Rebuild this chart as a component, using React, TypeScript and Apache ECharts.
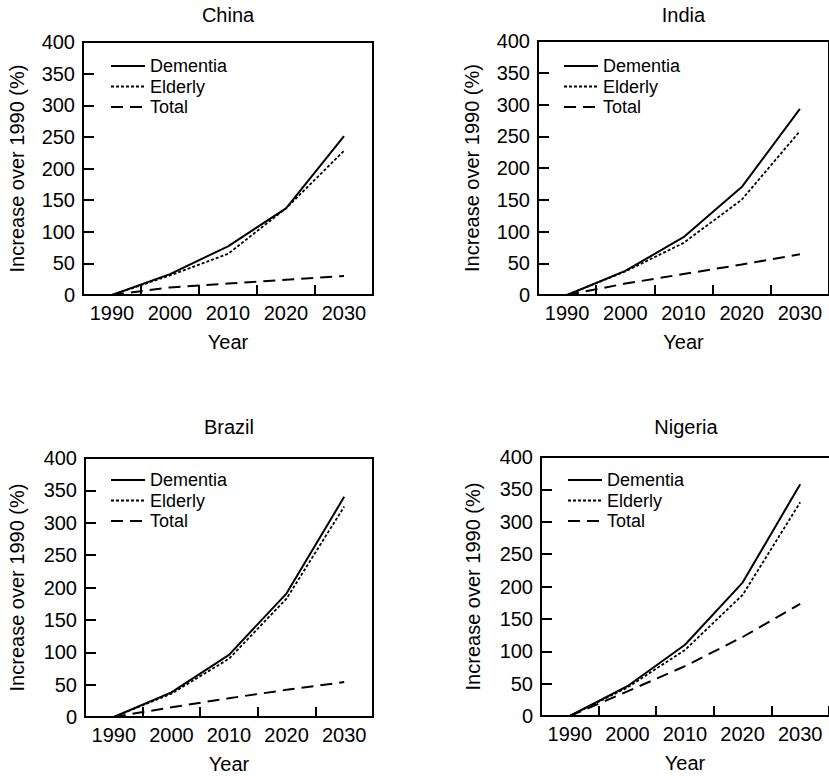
import React, { useEffect, useRef } from "react";
import * as echarts from "echarts";

const years = ["1990", "2000", "2010", "2020", "2030"];
const countries = ["China", "India", "Brazil", "Nigeria"];
const seriesNames = ["Dementia", "Elderly", "Total"];

const chinaDementia = [0, 33, 77, 137, 251];
const chinaElderly = [0, 31, 65, 137, 228];
const chinaTotal = [0, 12, 18, 24, 30];

const indiaDementia = [0, 38, 91, 170, 293];
const indiaElderly = [0, 37, 82, 150, 258];
const indiaTotal = [0, 18, 33, 48, 64];

const brazilDementia = [0, 38, 96, 191, 340];
const brazilElderly = [0, 36, 90, 183, 325];
const brazilTotal = [0, 15, 29, 42, 54];

const nigeriaDementia = [0, 46, 110, 206, 358];
const nigeriaElderly = [0, 44, 102, 187, 330];
const nigeriaTotal = [0, 38, 77, 122, 173];

const yTicks = { min: 0, max: 400, interval: 50 };

const panelData = [
  [chinaDementia, chinaElderly, chinaTotal],
  [indiaDementia, indiaElderly, indiaTotal],
  [brazilDementia, brazilElderly, brazilTotal],
  [nigeriaDementia, nigeriaElderly, nigeriaTotal],
];

const FONT = "'Liberation Sans', Arial, Helvetica, sans-serif";

const grids = [
  { left: 83, top: 42, width: 290, height: 253, nameGap: 56 },
  { left: 538, top: 41, width: 291, height: 254, nameGap: 56 },
  { left: 85, top: 458, width: 288, height: 259, nameGap: 58 },
  { left: 541, top: 457, width: 290, height: 259, nameGap: 58 },
];
const titleY = [15, 15, 427, 427];
const legendPos = [
  { left: 110, top: 57 },
  { left: 563, top: 57 },
  { left: 110, top: 471 },
  { left: 567, top: 471 },
];

const lineStyles = [
  { width: 2, type: "solid" as any },
  { width: 1.8, type: [3, 2] as any },
  { width: 2, type: [12, 7] as any },
];

export default function App() {
  const ref = useRef<HTMLDivElement>(null);
  useEffect(() => {
    if (!ref.current) return;
    const chart = echarts.init(ref.current, null, { renderer: "svg" });
    const grid = grids.map((g) => ({
      left: g.left,
      top: g.top,
      width: g.width,
      height: g.height,
      show: false,
    }));
    const xAxis = grids.map((g, i) => ({
      type: "category",
      gridIndex: i,
      data: years,
      boundaryGap: true,
      z: 5,
      name: "Year",
      nameLocation: "middle",
      nameGap: 37,
      nameTextStyle: { fontSize: 20, color: "#000", fontFamily: FONT },
      axisLine: { show: true, lineStyle: { color: "#000", width: 2 } },
      axisTick: { show: true, inside: true, length: 10, interval: 0, lineStyle: { color: "#000", width: 2 } },
      axisLabel: { fontSize: 20, color: "#000", fontFamily: FONT, margin: 8, interval: 0 },
      splitLine: { show: false },
    }));
    const yAxis = grids.map((g, i) => ({
      type: "value",
      gridIndex: i,
      min: yTicks.min,
      max: yTicks.max,
      interval: yTicks.interval,
      z: 5,
      name: "Increase over 1990 (%)",
      nameLocation: "middle",
      nameGap: g.nameGap,
      nameTextStyle: { fontSize: 20, color: "#000", fontFamily: FONT },
      axisLine: { show: true, lineStyle: { color: "#000", width: 2 } },
      axisTick: { show: true, inside: true, length: 11, lineStyle: { color: "#000", width: 2 } },
      axisLabel: { fontSize: 20, color: "#000", fontFamily: FONT, margin: 8 },
      splitLine: { show: false },
    }));
    const series: any[] = [];
    panelData.forEach((arrs, i) => {
      arrs.forEach((vals, k) => {
        series.push({
          type: "line",
          name: seriesNames[k],
          xAxisIndex: i,
          yAxisIndex: i,
          data: vals,
          symbol: "none",
          showSymbol: false,
          lineStyle: { color: "#000", ...lineStyles[k] },
          itemStyle: { color: "#000" },
          z: 3,
        });
      });
    });
    const legend = legendPos.map((p) => ({
      left: p.left,
      top: p.top,
      orient: "vertical",
      data: seriesNames.map((n, k) => ({
        name: n,
        itemStyle: { opacity: 0, color: "rgba(0,0,0,0)", borderWidth: 0 },
        lineStyle: { color: "#000", width: lineStyles[k].width, type: lineStyles[k].type, opacity: 1 },
      })),
      itemWidth: 34,
      itemHeight: 14,
      itemGap: 2.5,
      padding: 0,
      selectedMode: false,
      textStyle: { fontSize: 18, color: "#000", fontFamily: FONT },
    }));
    const titles = countries.map((c, i) => ({
      type: "text",
      x: grids[i].left + grids[i].width / 2,
      y: titleY[i],
      style: {
        text: c,
        fontSize: 20,
        fill: "#000",
        fontFamily: FONT,
        textAlign: "center",
        textVerticalAlign: "middle",
      },
    }));
    const frames = grids.map((g) => ({
      type: "polyline",
      silent: true,
      shape: {
        points: [
          [g.left - 1, g.top],
          [g.left + g.width, g.top],
          [g.left + g.width, g.top + g.height + 1],
        ],
      },
      style: { stroke: "#000", lineWidth: 2, fill: null },
    }));
    chart.setOption({
      animation: false,
      backgroundColor: "#fff",
      textStyle: { fontFamily: FONT },
      grid,
      xAxis,
      yAxis,
      series,
      legend,
      graphic: [...frames, ...titles],
    } as any);
    return () => chart.dispose();
  }, []);
  return (
    <div
      ref={ref}
      style={{ position: "absolute", left: 0, top: 0, width: 829, height: 776 }}
    />
  );
}
